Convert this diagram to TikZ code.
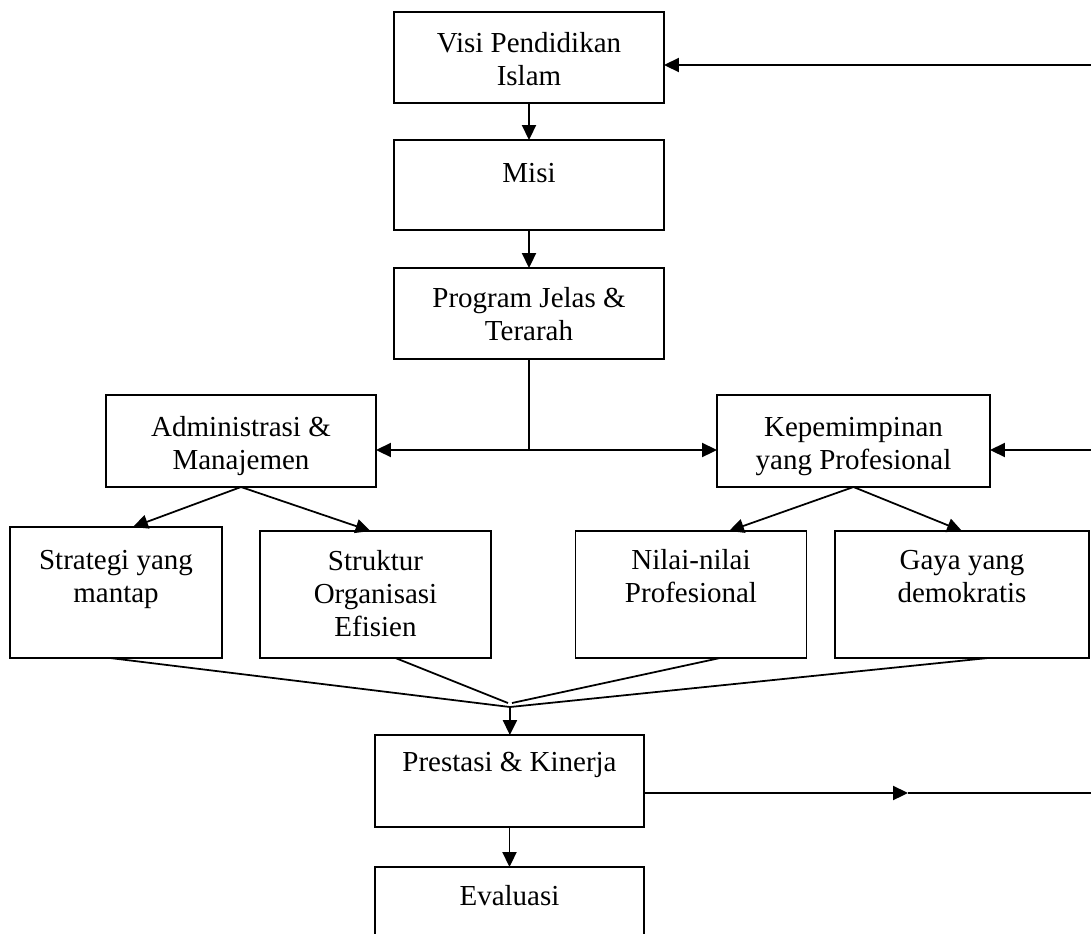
\documentclass[tikz,border=0pt]{standalone}
\usepackage{fontspec}
\setmainfont{Liberation Serif}
\usepackage{tikz}
\usetikzlibrary{calc, arrows.meta}

\tikzset{
  kotak/.style 2 args={draw, line width=1pt, inner sep=0pt, outer sep=0pt,
    minimum width=#1*0.02cm, minimum height=#2*0.02cm},
  isi/.style={anchor=north, yshift=-11pt, inner sep=0pt, align=center,
    font=\fontsize{16.5}{18.8}\selectfont},
  panah/.style={line width=1pt, -{Triangle[length=8.5pt, width=8pt]}},
  garis/.style={line width=1pt}
}

\begin{document}
\begin{tikzpicture}[x=0.02cm, y=-0.02cm]
      \clip (0,0) rectangle (1091,933);

      \node[kotak={270}{91}] (visi) at (529,57.5) {};
      \node[kotak={270}{90}] (misi) at (529,185) {};
      \node[kotak={270}{91}] (program) at (529,313.5) {};
      \node[kotak={270}{92}] (admin) at (241,441) {};
      \node[kotak={273}{92}] (kep) at (853.5,441) {};
      \node[kotak={212}{131}] (strategi) at (116,592.5) {};
      \node[kotak={231}{127}] (struktur) at (375.5,594.5) {};
      \node[kotak={231}{127}] (nilai) at (691,594.5) {};
      \node[kotak={254}{127}] (gaya) at (962,594.5) {};
      \node[kotak={269}{92}] (prestasi) at (509.5,781) {};
      \node[kotak={269}{92}] (evaluasi) at (509.5,913) {};

      \node[isi, yshift=-0.5pt] (tvisi) at (visi.north) {Visi Pendidikan\\Islam};
      \node[isi, yshift=-2pt] (tmisi) at (misi.north) {Misi};
      \node[isi] (tprogram) at (program.north) {Program Jelas \&\\Terarah};
      \node[isi, yshift=-1pt] (tadmin) at (admin.north) {Administrasi \&\\Manajemen};
      \node[isi, yshift=-1.5pt] (tkep) at (kep.north) {Kepemimpinan\\yang Profesional};
      \node[isi, yshift=-2pt] (tstrategi) at (strategi.north) {Strategi yang\\mantap};
      \node[isi] (tstruktur) at (struktur.north) {Struktur\\Organisasi\\Efisien};
      \node[isi, yshift=1pt] (tnilai) at (nilai.north) {Nilai-nilai\\Profesional};
      \node[isi, yshift=0.5pt] (tgaya) at (gaya.north) {Gaya yang\\demokratis};
      \node[isi, yshift=1.5pt] (tprestasi) at (prestasi.north) {Prestasi \& Kinerja};
      \node[isi, yshift=1pt] (tevaluasi) at (evaluasi.north) {Evaluasi};

      \coordinate (cabang) at (529,450);
      \coordinate (temu) at (510,707);
      \coordinate (temu2) at (510,703);
      \coordinate (kanan1) at (1091,65);
      \coordinate (kanan2) at (1091,450);
      \coordinate (kanan3) at (1091,793);
      \coordinate (tengah) at (908,793);

      \draw[panah] (visi) -- (misi);
      \draw[panah] (misi) -- (program);
      \draw[garis] (program.south) -- (cabang);
      \draw[panah] (cabang) -- (cabang -| admin.east);
      \draw[panah] (cabang) -- (cabang -| kep.west);
      \draw[panah] (kanan1) -- (kanan1 -| visi.east);
      \draw[panah] (kanan2) -- (kanan2 -| kep.east);

      \draw[panah] (admin.south) -- ($(strategi.north)+(17,0)$);
      \draw[panah] (admin.south) -- ($(struktur.north)+(-5,0)$);
      \draw[panah] (kep.south) -- ($(nilai.north)+(38,0)$);
      \draw[panah] (kep.south) -- (gaya.north);

      \draw[garis] ($(strategi.south)+(-6,0)$) -- (temu);
      \draw[garis] ($(struktur.south)+(20,0)$) -- ($(temu2)+(-2,0)$);
      \draw[garis] ($(nilai.south)+(29,0)$) -- ($(temu2)+(2,0)$);
      \draw[garis] ($(gaya.south)+(26,0)$) -- (temu);
      \draw[panah] (temu) -- (prestasi);
      \draw[panah] (prestasi) -- (evaluasi);

      \draw[panah] (kanan3 -| prestasi.east) -- (tengah);
      \draw[garis] (tengah) -- (kanan3);
\end{tikzpicture}
\end{document}
